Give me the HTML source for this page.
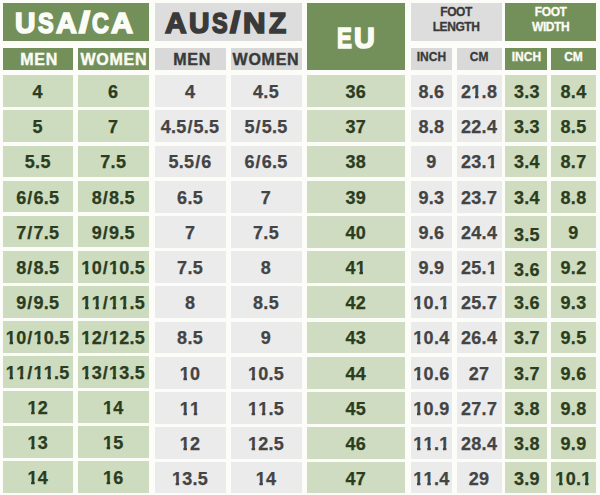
<!DOCTYPE html>
<html><head><meta charset="utf-8"><style>
html,body{margin:0;padding:0}
body{width:600px;height:495px;overflow:hidden;position:relative;background:#fcfdf9;font-family:"Liberation Sans",sans-serif;font-weight:bold}
.c{position:absolute;display:flex;align-items:center;justify-content:center;text-align:center;white-space:nowrap}
.c i{font-style:normal;margin:0 0.8px}
.c u{text-decoration:none;display:inline-block;clip-path:polygon(0 0,100% 0,100% 55%,70% 55%,70% 100%,36% 100%,36% 55%,0 55%)}
.w{color:#fbfcf5}
.k{color:#3a3a3a}
.h1{font-size:30px;line-height:1;-webkit-text-stroke:1px currentColor}
.a1{letter-spacing:0.4px}
.h1 b{display:inline-block;transform:scaleX(1.5);margin:0 2px 0 2px}
.u1{letter-spacing:-0.3px}
.eu{font-size:31px;-webkit-text-stroke:1.8px currentColor}
.eu em{font-style:normal;display:inline-block;transform:scaleX(0.735);margin-right:-1.3px}
.eu em.u{transform:scaleX(0.91);margin:0}
.h3{font-size:12px;line-height:15.1px;letter-spacing:-0.4px;-webkit-text-stroke:0.3px currentColor}
.h2{font-size:16px;letter-spacing:0.75px;-webkit-text-stroke:0.4px currentColor}
.h4{font-size:12px;-webkit-text-stroke:0.3px currentColor}
.d{font-size:18px;letter-spacing:0.3px;-webkit-text-stroke:0.25px currentColor}
.tg{color:#2b3d1e}
.gl{position:absolute;font-size:30px;line-height:30px;transform-origin:0 0;-webkit-text-stroke:1.7px currentColor;white-space:nowrap}
.ta{color:#444444}
</style></head><body>
<div class="c " style="left:2.5px;top:2.5px;width:146.50px;height:38.30px;background:#74905a"></div>
<div class="c " style="left:154.5px;top:2.5px;width:147.00px;height:38.30px;background:#dddddd"></div>
<div class="c " style="left:307px;top:2.5px;width:97.50px;height:67.80px;background:#74905a"></div>
<span class="gl" style="left:14.90px;top:7.85px;color:#fbfcf5;transform:scaleX(0.9442)">U</span>
<span class="gl" style="left:38.06px;top:7.85px;color:#fbfcf5;transform:scaleX(0.7817)">S</span>
<span class="gl" style="left:55.50px;top:7.85px;color:#fbfcf5;transform:scaleX(0.9587)">A</span>
<span class="gl" style="left:78.52px;top:7.85px;color:#fbfcf5;transform:scaleX(1.3053)">&#47;</span>
<span class="gl" style="left:92.13px;top:7.85px;color:#fbfcf5;transform:scaleX(0.7775)">C</span>
<span class="gl" style="left:110.80px;top:7.85px;color:#fbfcf5;transform:scaleX(1.0138)">A</span>
<span class="gl" style="left:165.10px;top:7.6px;color:#3a3a3a;transform:scaleX(0.9954)">A</span>
<span class="gl" style="left:188.70px;top:7.6px;color:#3a3a3a;transform:scaleX(0.9442)">U</span>
<span class="gl" style="left:211.66px;top:7.6px;color:#3a3a3a;transform:scaleX(0.7817)">S</span>
<span class="gl" style="left:229.87px;top:7.6px;color:#3a3a3a;transform:scaleX(1.2211)">&#47;</span>
<span class="gl" style="left:243.45px;top:7.6px;color:#3a3a3a;transform:scaleX(1.0412)">N</span>
<span class="gl" style="left:268.70px;top:7.6px;color:#3a3a3a;transform:scaleX(0.9368)">Z</span>
<span class="gl" style="left:336.89px;top:22.6px;color:#fbfcf5;transform:scaleX(0.7399)">E</span>
<span class="gl" style="left:354.09px;top:22.6px;color:#fbfcf5;transform:scaleX(0.9594)">U</span>
<div class="c h3 k" style="left:410.5px;top:2.5px;width:91.20px;height:38.30px;background:#dddddd"><span style="position:relative;left:0px;top:-1.4px">FOOT<br>LENGTH</span></div>
<div class="c h3 w" style="left:505px;top:2.5px;width:91.30px;height:38.30px;background:#74905a"><span style="position:relative;left:0px;top:-1.4px">FOOT<br>WIDTH</span></div>
<div class="c h2 w" style="left:2.5px;top:47.6px;width:70.50px;height:22.70px;background:#74905a"><span style="position:relative;left:1.3px;top:1px">MEN</span></div>
<div class="c h2 w" style="left:77.5px;top:47.6px;width:71.50px;height:22.70px;background:#74905a"><span style="position:relative;left:0.6px;top:1px">WOMEN</span></div>
<div class="c h2 k" style="left:154.5px;top:47.6px;width:71.10px;height:22.70px;background:#d9d9d9"><span style="position:relative;left:2px;top:1px">MEN</span></div>
<div class="c h2 k" style="left:230.5px;top:47.6px;width:71.00px;height:22.70px;background:#d9d9d9"><span style="position:relative;left:0px;top:1px">WOMEN</span></div>
<div class="c h4 k" style="left:410.5px;top:47.6px;width:41.80px;height:22.70px;background:#d9d9d9"><span style="position:relative;left:0px;top:-2px">INCH</span></div>
<div class="c h4 k" style="left:456.5px;top:47.6px;width:45.20px;height:22.70px;background:#d9d9d9"><span style="position:relative;left:0px;top:-2px">CM</span></div>
<div class="c h4 w" style="left:505px;top:47.6px;width:41.80px;height:22.70px;background:#74905a"><span style="position:relative;left:0.5px;top:-2px">INCH</span></div>
<div class="c h4 w" style="left:550.7px;top:47.6px;width:45.60px;height:22.70px;background:#74905a"><span style="position:relative;left:0px;top:-2px">CM</span></div>
<div class="c d tg" style="left:2.5px;top:75.2px;width:70.50px;height:31.80px;background:#cddbbe"><span style="position:relative;left:0px;top:1.5px">4</span></div>
<div class="c d tg" style="left:77.5px;top:75.2px;width:71.50px;height:31.80px;background:#cddbbe"><span style="position:relative;left:0px;top:1.5px">6</span></div>
<div class="c d ta" style="left:154.5px;top:75.2px;width:71.10px;height:31.80px;background:#ebebeb"><span style="position:relative;left:0px;top:1.5px">4</span></div>
<div class="c d ta" style="left:230.5px;top:75.2px;width:71.00px;height:31.80px;background:#ebebeb"><span style="position:relative;left:0px;top:1.5px">4.5</span></div>
<div class="c d tg" style="left:307px;top:75.2px;width:97.50px;height:31.80px;background:#cfdcc1"><span style="position:relative;left:0px;top:1.5px">36</span></div>
<div class="c d ta" style="left:410.5px;top:75.2px;width:41.80px;height:31.80px;background:#ebebeb"><span style="position:relative;left:0px;top:1.5px">8.6</span></div>
<div class="c d ta" style="left:456.5px;top:75.2px;width:45.20px;height:31.80px;background:#ebebeb"><span style="position:relative;left:0px;top:1.5px">2<u>1</u>.8</span></div>
<div class="c d tg" style="left:505px;top:75.2px;width:41.80px;height:31.80px;background:#cfdcc0"><span style="position:relative;left:1.0px;top:1.5px">3.3</span></div>
<div class="c d tg" style="left:550.7px;top:75.2px;width:45.60px;height:31.80px;background:#cfdcc0"><span style="position:relative;left:0px;top:1.5px">8.4</span></div>
<div class="c d tg" style="left:2.5px;top:110.4px;width:70.50px;height:31.80px;background:#cddbbe"><span style="position:relative;left:0px;top:1.5px">5</span></div>
<div class="c d tg" style="left:77.5px;top:110.4px;width:71.50px;height:31.80px;background:#cddbbe"><span style="position:relative;left:0px;top:1.5px">7</span></div>
<div class="c d ta" style="left:154.5px;top:110.4px;width:71.10px;height:31.80px;background:#ebebeb"><span style="position:relative;left:0px;top:1.5px">4.5<i>/</i>5.5</span></div>
<div class="c d ta" style="left:230.5px;top:110.4px;width:71.00px;height:31.80px;background:#ebebeb"><span style="position:relative;left:0px;top:1.5px">5<i>/</i>5.5</span></div>
<div class="c d tg" style="left:307px;top:110.4px;width:97.50px;height:31.80px;background:#cfdcc1"><span style="position:relative;left:0px;top:1.5px">37</span></div>
<div class="c d ta" style="left:410.5px;top:110.4px;width:41.80px;height:31.80px;background:#ebebeb"><span style="position:relative;left:0px;top:1.5px">8.8</span></div>
<div class="c d ta" style="left:456.5px;top:110.4px;width:45.20px;height:31.80px;background:#ebebeb"><span style="position:relative;left:0px;top:1.5px">22.4</span></div>
<div class="c d tg" style="left:505px;top:110.4px;width:41.80px;height:31.80px;background:#cfdcc0"><span style="position:relative;left:1.0px;top:1.5px">3.3</span></div>
<div class="c d tg" style="left:550.7px;top:110.4px;width:45.60px;height:31.80px;background:#cfdcc0"><span style="position:relative;left:0px;top:1.5px">8.5</span></div>
<div class="c d tg" style="left:2.5px;top:145.6px;width:70.50px;height:31.80px;background:#cddbbe"><span style="position:relative;left:0px;top:1.5px">5.5</span></div>
<div class="c d tg" style="left:77.5px;top:145.6px;width:71.50px;height:31.80px;background:#cddbbe"><span style="position:relative;left:0px;top:1.5px">7.5</span></div>
<div class="c d ta" style="left:154.5px;top:145.6px;width:71.10px;height:31.80px;background:#ebebeb"><span style="position:relative;left:0px;top:1.5px">5.5<i>/</i>6</span></div>
<div class="c d ta" style="left:230.5px;top:145.6px;width:71.00px;height:31.80px;background:#ebebeb"><span style="position:relative;left:0px;top:1.5px">6<i>/</i>6.5</span></div>
<div class="c d tg" style="left:307px;top:145.6px;width:97.50px;height:31.80px;background:#cfdcc1"><span style="position:relative;left:0px;top:1.5px">38</span></div>
<div class="c d ta" style="left:410.5px;top:145.6px;width:41.80px;height:31.80px;background:#ebebeb"><span style="position:relative;left:0px;top:1.5px">9</span></div>
<div class="c d ta" style="left:456.5px;top:145.6px;width:45.20px;height:31.80px;background:#ebebeb"><span style="position:relative;left:0px;top:1.5px">23.<u>1</u></span></div>
<div class="c d tg" style="left:505px;top:145.6px;width:41.80px;height:31.80px;background:#cfdcc0"><span style="position:relative;left:1.0px;top:1.5px">3.4</span></div>
<div class="c d tg" style="left:550.7px;top:145.6px;width:45.60px;height:31.80px;background:#cfdcc0"><span style="position:relative;left:0px;top:1.5px">8.7</span></div>
<div class="c d tg" style="left:2.5px;top:180.64px;width:70.50px;height:31.80px;background:#cddbbe"><span style="position:relative;left:0px;top:1.5px">6<i>/</i>6.5</span></div>
<div class="c d tg" style="left:77.5px;top:180.64px;width:71.50px;height:31.80px;background:#cddbbe"><span style="position:relative;left:0px;top:1.5px">8<i>/</i>8.5</span></div>
<div class="c d ta" style="left:154.5px;top:180.8px;width:71.10px;height:31.80px;background:#ebebeb"><span style="position:relative;left:0px;top:1.5px">6.5</span></div>
<div class="c d ta" style="left:230.5px;top:180.8px;width:71.00px;height:31.80px;background:#ebebeb"><span style="position:relative;left:0px;top:1.5px">7</span></div>
<div class="c d tg" style="left:307px;top:180.8px;width:97.50px;height:31.80px;background:#cfdcc1"><span style="position:relative;left:0px;top:1.5px">39</span></div>
<div class="c d ta" style="left:410.5px;top:180.8px;width:41.80px;height:31.80px;background:#ebebeb"><span style="position:relative;left:0px;top:1.5px">9.3</span></div>
<div class="c d ta" style="left:456.5px;top:180.8px;width:45.20px;height:31.80px;background:#ebebeb"><span style="position:relative;left:0px;top:1.5px">23.7</span></div>
<div class="c d tg" style="left:505px;top:180.8px;width:41.80px;height:31.80px;background:#cfdcc0"><span style="position:relative;left:1.0px;top:1.5px">3.4</span></div>
<div class="c d tg" style="left:550.7px;top:180.8px;width:45.60px;height:31.80px;background:#cfdcc0"><span style="position:relative;left:0px;top:1.5px">8.8</span></div>
<div class="c d tg" style="left:2.5px;top:215.68px;width:70.50px;height:31.80px;background:#cddbbe"><span style="position:relative;left:0px;top:1.5px">7<i>/</i>7.5</span></div>
<div class="c d tg" style="left:77.5px;top:215.68px;width:71.50px;height:31.80px;background:#cddbbe"><span style="position:relative;left:0px;top:1.5px">9<i>/</i>9.5</span></div>
<div class="c d ta" style="left:154.5px;top:216.0px;width:71.10px;height:31.80px;background:#ebebeb"><span style="position:relative;left:0px;top:1.5px">7</span></div>
<div class="c d ta" style="left:230.5px;top:216.0px;width:71.00px;height:31.80px;background:#ebebeb"><span style="position:relative;left:0px;top:1.5px">7.5</span></div>
<div class="c d tg" style="left:307px;top:216.0px;width:97.50px;height:31.80px;background:#cfdcc1"><span style="position:relative;left:0px;top:1.5px">40</span></div>
<div class="c d ta" style="left:410.5px;top:216.0px;width:41.80px;height:31.80px;background:#ebebeb"><span style="position:relative;left:0px;top:1.5px">9.6</span></div>
<div class="c d ta" style="left:456.5px;top:216.0px;width:45.20px;height:31.80px;background:#ebebeb"><span style="position:relative;left:0px;top:1.5px">24.4</span></div>
<div class="c d tg" style="left:505px;top:216.0px;width:41.80px;height:31.80px;background:#cfdcc0"><span style="position:relative;left:1.0px;top:3.8px">3.5</span></div>
<div class="c d tg" style="left:550.7px;top:216.0px;width:45.60px;height:31.80px;background:#cfdcc0"><span style="position:relative;left:0px;top:1.5px">9</span></div>
<div class="c d tg" style="left:2.5px;top:250.71px;width:70.50px;height:31.80px;background:#cddbbe"><span style="position:relative;left:0px;top:1.5px">8<i>/</i>8.5</span></div>
<div class="c d tg" style="left:77.5px;top:250.71px;width:71.50px;height:31.80px;background:#cddbbe"><span style="position:relative;left:0px;top:1.5px"><u>1</u>0<i>/</i><u>1</u>0.5</span></div>
<div class="c d ta" style="left:154.5px;top:251.2px;width:71.10px;height:31.80px;background:#ebebeb"><span style="position:relative;left:0px;top:1.5px">7.5</span></div>
<div class="c d ta" style="left:230.5px;top:251.2px;width:71.00px;height:31.80px;background:#ebebeb"><span style="position:relative;left:0px;top:1.5px">8</span></div>
<div class="c d tg" style="left:307px;top:251.2px;width:97.50px;height:31.80px;background:#cfdcc1"><span style="position:relative;left:0px;top:1.5px">4<u>1</u></span></div>
<div class="c d ta" style="left:410.5px;top:251.2px;width:41.80px;height:31.80px;background:#ebebeb"><span style="position:relative;left:0px;top:1.5px">9.9</span></div>
<div class="c d ta" style="left:456.5px;top:251.2px;width:45.20px;height:31.80px;background:#ebebeb"><span style="position:relative;left:0px;top:1.5px">25.<u>1</u></span></div>
<div class="c d tg" style="left:505px;top:251.2px;width:41.80px;height:31.80px;background:#cfdcc0"><span style="position:relative;left:1.0px;top:3.8px">3.6</span></div>
<div class="c d tg" style="left:550.7px;top:251.2px;width:45.60px;height:31.80px;background:#cfdcc0"><span style="position:relative;left:0px;top:1.5px">9.2</span></div>
<div class="c d tg" style="left:2.5px;top:285.75px;width:70.50px;height:31.80px;background:#cddbbe"><span style="position:relative;left:0px;top:1.5px">9<i>/</i>9.5</span></div>
<div class="c d tg" style="left:77.5px;top:285.75px;width:71.50px;height:31.80px;background:#cddbbe"><span style="position:relative;left:0px;top:1.5px"><u>1</u><u>1</u><i>/</i><u>1</u><u>1</u>.5</span></div>
<div class="c d ta" style="left:154.5px;top:286.4px;width:71.10px;height:31.80px;background:#ebebeb"><span style="position:relative;left:0px;top:1.5px">8</span></div>
<div class="c d ta" style="left:230.5px;top:286.4px;width:71.00px;height:31.80px;background:#ebebeb"><span style="position:relative;left:0px;top:1.5px">8.5</span></div>
<div class="c d tg" style="left:307px;top:286.4px;width:97.50px;height:31.80px;background:#cfdcc1"><span style="position:relative;left:0px;top:1.5px">42</span></div>
<div class="c d ta" style="left:410.5px;top:286.4px;width:41.80px;height:31.80px;background:#ebebeb"><span style="position:relative;left:0px;top:1.5px"><u>1</u>0.<u>1</u></span></div>
<div class="c d ta" style="left:456.5px;top:286.4px;width:45.20px;height:31.80px;background:#ebebeb"><span style="position:relative;left:0px;top:1.5px">25.7</span></div>
<div class="c d tg" style="left:505px;top:286.4px;width:41.80px;height:31.80px;background:#cfdcc0"><span style="position:relative;left:1.0px;top:1.5px">3.6</span></div>
<div class="c d tg" style="left:550.7px;top:286.4px;width:45.60px;height:31.80px;background:#cfdcc0"><span style="position:relative;left:0px;top:1.5px">9.3</span></div>
<div class="c d tg" style="left:2.5px;top:320.79px;width:70.50px;height:31.80px;background:#cddbbe"><span style="position:relative;left:0px;top:1.5px"><u>1</u>0<i>/</i><u>1</u>0.5</span></div>
<div class="c d tg" style="left:77.5px;top:320.79px;width:71.50px;height:31.80px;background:#cddbbe"><span style="position:relative;left:0px;top:1.5px"><u>1</u>2<i>/</i><u>1</u>2.5</span></div>
<div class="c d ta" style="left:154.5px;top:321.6px;width:71.10px;height:31.80px;background:#ebebeb"><span style="position:relative;left:0px;top:1.5px">8.5</span></div>
<div class="c d ta" style="left:230.5px;top:321.6px;width:71.00px;height:31.80px;background:#ebebeb"><span style="position:relative;left:0px;top:1.5px">9</span></div>
<div class="c d tg" style="left:307px;top:321.6px;width:97.50px;height:31.80px;background:#cfdcc1"><span style="position:relative;left:0px;top:1.5px">43</span></div>
<div class="c d ta" style="left:410.5px;top:321.6px;width:41.80px;height:31.80px;background:#ebebeb"><span style="position:relative;left:0px;top:1.5px"><u>1</u>0.4</span></div>
<div class="c d ta" style="left:456.5px;top:321.6px;width:45.20px;height:31.80px;background:#ebebeb"><span style="position:relative;left:0px;top:1.5px">26.4</span></div>
<div class="c d tg" style="left:505px;top:321.6px;width:41.80px;height:31.80px;background:#cfdcc0"><span style="position:relative;left:1.0px;top:1.5px">3.7</span></div>
<div class="c d tg" style="left:550.7px;top:321.6px;width:45.60px;height:31.80px;background:#cfdcc0"><span style="position:relative;left:0px;top:1.5px">9.5</span></div>
<div class="c d tg" style="left:2.5px;top:355.82px;width:70.50px;height:31.80px;background:#cddbbe"><span style="position:relative;left:0px;top:1.5px"><u>1</u><u>1</u><i>/</i><u>1</u><u>1</u>.5</span></div>
<div class="c d tg" style="left:77.5px;top:355.82px;width:71.50px;height:31.80px;background:#cddbbe"><span style="position:relative;left:0px;top:1.5px"><u>1</u>3<i>/</i><u>1</u>3.5</span></div>
<div class="c d ta" style="left:154.5px;top:356.8px;width:71.10px;height:31.80px;background:#ebebeb"><span style="position:relative;left:0px;top:1.5px"><u>1</u>0</span></div>
<div class="c d ta" style="left:230.5px;top:356.8px;width:71.00px;height:31.80px;background:#ebebeb"><span style="position:relative;left:0px;top:1.5px"><u>1</u>0.5</span></div>
<div class="c d tg" style="left:307px;top:356.8px;width:97.50px;height:31.80px;background:#cfdcc1"><span style="position:relative;left:0px;top:1.5px">44</span></div>
<div class="c d ta" style="left:410.5px;top:356.8px;width:41.80px;height:31.80px;background:#ebebeb"><span style="position:relative;left:0px;top:1.5px"><u>1</u>0.6</span></div>
<div class="c d ta" style="left:456.5px;top:356.8px;width:45.20px;height:31.80px;background:#ebebeb"><span style="position:relative;left:0px;top:1.5px">27</span></div>
<div class="c d tg" style="left:505px;top:356.8px;width:41.80px;height:31.80px;background:#cfdcc0"><span style="position:relative;left:1.0px;top:1.5px">3.7</span></div>
<div class="c d tg" style="left:550.7px;top:356.8px;width:45.60px;height:31.80px;background:#cfdcc0"><span style="position:relative;left:0px;top:1.5px">9.6</span></div>
<div class="c d tg" style="left:2.5px;top:390.86px;width:70.50px;height:31.80px;background:#cddbbe"><span style="position:relative;left:0px;top:1.5px"><u>1</u>2</span></div>
<div class="c d tg" style="left:77.5px;top:390.86px;width:71.50px;height:31.80px;background:#cddbbe"><span style="position:relative;left:0px;top:1.5px"><u>1</u>4</span></div>
<div class="c d ta" style="left:154.5px;top:392.0px;width:71.10px;height:31.80px;background:#ebebeb"><span style="position:relative;left:0px;top:1.5px"><u>1</u><u>1</u></span></div>
<div class="c d ta" style="left:230.5px;top:392.0px;width:71.00px;height:31.80px;background:#ebebeb"><span style="position:relative;left:0px;top:1.5px"><u>1</u><u>1</u>.5</span></div>
<div class="c d tg" style="left:307px;top:392.0px;width:97.50px;height:31.80px;background:#cfdcc1"><span style="position:relative;left:0px;top:1.5px">45</span></div>
<div class="c d ta" style="left:410.5px;top:392.0px;width:41.80px;height:31.80px;background:#ebebeb"><span style="position:relative;left:0px;top:1.5px"><u>1</u>0.9</span></div>
<div class="c d ta" style="left:456.5px;top:392.0px;width:45.20px;height:31.80px;background:#ebebeb"><span style="position:relative;left:0px;top:1.5px">27.7</span></div>
<div class="c d tg" style="left:505px;top:392.0px;width:41.80px;height:31.80px;background:#cfdcc0"><span style="position:relative;left:1.0px;top:1.5px">3.8</span></div>
<div class="c d tg" style="left:550.7px;top:392.0px;width:45.60px;height:31.80px;background:#cfdcc0"><span style="position:relative;left:0px;top:1.5px">9.8</span></div>
<div class="c d tg" style="left:2.5px;top:425.9px;width:70.50px;height:31.80px;background:#cddbbe"><span style="position:relative;left:0px;top:1.5px"><u>1</u>3</span></div>
<div class="c d tg" style="left:77.5px;top:425.9px;width:71.50px;height:31.80px;background:#cddbbe"><span style="position:relative;left:0px;top:1.5px"><u>1</u>5</span></div>
<div class="c d ta" style="left:154.5px;top:427.2px;width:71.10px;height:31.80px;background:#ebebeb"><span style="position:relative;left:0px;top:1.5px"><u>1</u>2</span></div>
<div class="c d ta" style="left:230.5px;top:427.2px;width:71.00px;height:31.80px;background:#ebebeb"><span style="position:relative;left:0px;top:1.5px"><u>1</u>2.5</span></div>
<div class="c d tg" style="left:307px;top:427.2px;width:97.50px;height:31.80px;background:#cfdcc1"><span style="position:relative;left:0px;top:1.5px">46</span></div>
<div class="c d ta" style="left:410.5px;top:427.2px;width:41.80px;height:31.80px;background:#ebebeb"><span style="position:relative;left:0px;top:1.5px"><u>1</u><u>1</u>.<u>1</u></span></div>
<div class="c d ta" style="left:456.5px;top:427.2px;width:45.20px;height:31.80px;background:#ebebeb"><span style="position:relative;left:0px;top:1.5px">28.4</span></div>
<div class="c d tg" style="left:505px;top:427.2px;width:41.80px;height:31.80px;background:#cfdcc0"><span style="position:relative;left:1.0px;top:1.5px">3.8</span></div>
<div class="c d tg" style="left:550.7px;top:427.2px;width:45.60px;height:31.80px;background:#cfdcc0"><span style="position:relative;left:0px;top:1.5px">9.9</span></div>
<div class="c d tg" style="left:2.5px;top:460.94px;width:70.50px;height:32.46px;background:#cddbbe"><span style="position:relative;left:0px;top:1.5px"><u>1</u>4</span></div>
<div class="c d tg" style="left:77.5px;top:460.94px;width:71.50px;height:32.46px;background:#cddbbe"><span style="position:relative;left:0px;top:1.5px"><u>1</u>6</span></div>
<div class="c d ta" style="left:154.5px;top:462.4px;width:71.10px;height:31.00px;background:#ebebeb"><span style="position:relative;left:0px;top:1.5px"><u>1</u>3.5</span></div>
<div class="c d ta" style="left:230.5px;top:462.4px;width:71.00px;height:31.00px;background:#ebebeb"><span style="position:relative;left:0px;top:1.5px"><u>1</u>4</span></div>
<div class="c d tg" style="left:307px;top:462.4px;width:97.50px;height:31.00px;background:#cfdcc1"><span style="position:relative;left:0px;top:1.5px">47</span></div>
<div class="c d ta" style="left:410.5px;top:462.4px;width:41.80px;height:31.00px;background:#ebebeb"><span style="position:relative;left:0px;top:1.5px"><u>1</u><u>1</u>.4</span></div>
<div class="c d ta" style="left:456.5px;top:462.4px;width:45.20px;height:31.00px;background:#ebebeb"><span style="position:relative;left:0px;top:1.5px">29</span></div>
<div class="c d tg" style="left:505px;top:462.4px;width:41.80px;height:31.00px;background:#cfdcc0"><span style="position:relative;left:1.0px;top:1.5px">3.9</span></div>
<div class="c d tg" style="left:550.7px;top:462.4px;width:45.60px;height:31.00px;background:#cfdcc0"><span style="position:relative;left:0px;top:1.5px"><u>1</u>0.<u>1</u></span></div>
</body></html>
